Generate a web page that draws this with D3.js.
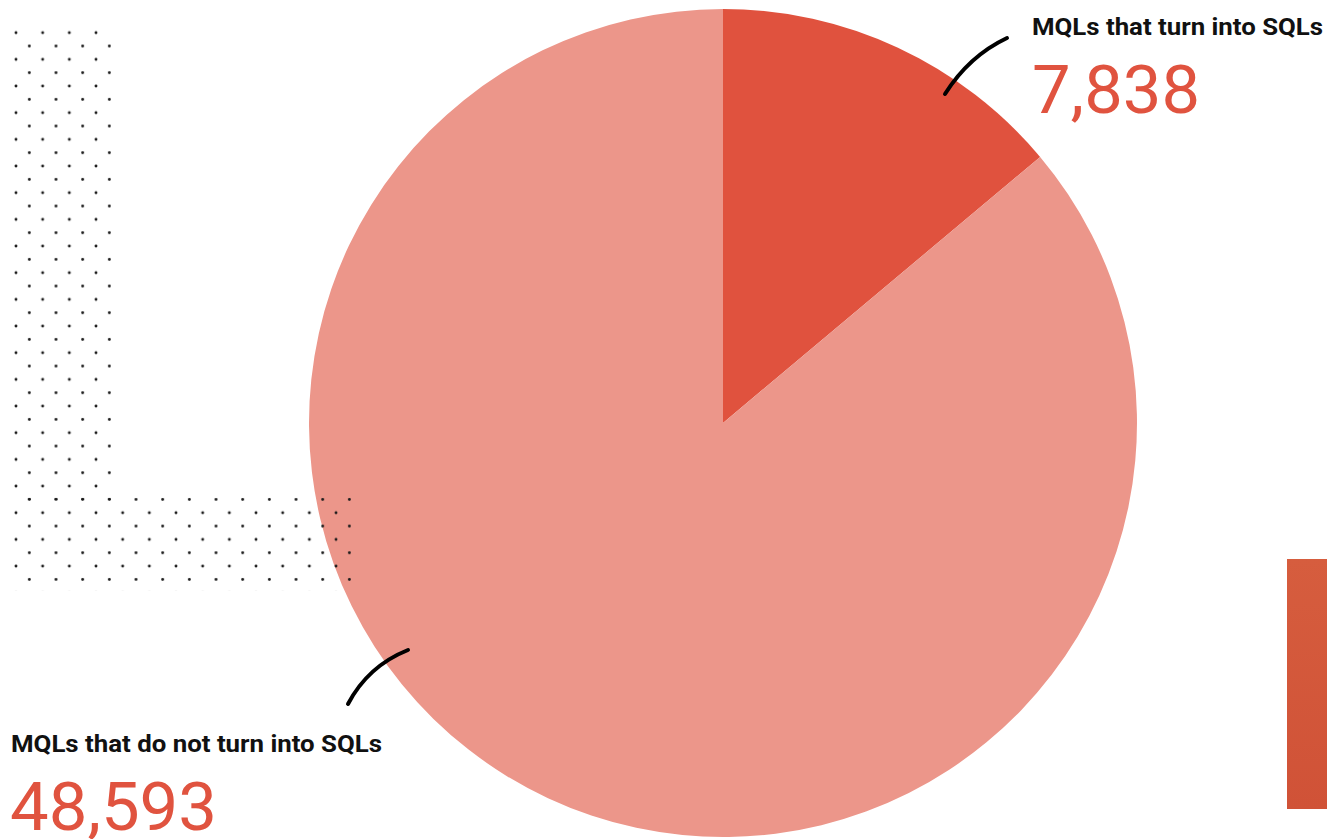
<!DOCTYPE html>
<html lang="en">
<head>
<meta charset="UTF-8">
<title>MQLs to SQLs</title>
<style>
body{margin:0;background:#fff;}
.lbl{font-family:Roboto,"Liberation Sans",sans-serif;font-weight:700;fill:#111;}
.num{font-family:Roboto,"Liberation Sans",sans-serif;font-weight:400;fill:#E0533F;}
</style>
</head>
<body>
<script src="https://cdn.jsdelivr.net/npm/d3@7"></script>
<script>
// data
var labels = ["MQLs that turn into SQLs", "MQLs that do not turn into SQLs"];
var values = [7838, 48593];
var colors = ["#E0523E", "#EC968A"];

var width = 1327, height = 839;
var cx = 723, cy = 423, radius = 414;

var svg = d3.select("body").append("svg")
	.attr("width", width)
	.attr("height", height);

// dot pattern (decoration in the back-left)
var defs = svg.append("defs");
var pat = defs.append("pattern")
	.attr("id", "dots")
	.attr("patternUnits", "userSpaceOnUse")
	.attr("x", 16).attr("y", 32.7)
	.attr("width", 26.67).attr("height", 26.67);
var pts = [[0,0],[26.67,0],[0,26.67],[26.67,26.67],[13.33,13.33]];
pts.forEach(function(p){
	pat.append("circle").attr("cx", p[0]).attr("cy", p[1]).attr("r", 1.45).attr("fill", "#1a1a1a");
});

// pie
var pie = d3.pie().sort(null).value(function(d){ return d; });
var arc = d3.arc().innerRadius(0).outerRadius(radius);
var g = svg.append("g").attr("transform", "translate(" + cx + "," + cy + ")");
g.selectAll("path")
	.data(pie(values))
	.enter().append("path")
	.attr("d", arc)
	.attr("fill", function(d, i){ return colors[i]; });

// dots are drawn over the pie
svg.append("rect").attr("x", 13).attr("y", 30).attr("width", 99).attr("height", 470).attr("fill", "url(#dots)");
svg.append("rect").attr("x", 13).attr("y", 497.5).attr("width", 338).attr("height", 93).attr("fill", "url(#dots)");

// side bar
var grad = defs.append("linearGradient").attr("id", "bar").attr("x1", 0).attr("y1", 0).attr("x2", 0).attr("y2", 1);
grad.append("stop").attr("offset", "0%").attr("stop-color", "#D65D3E");
grad.append("stop").attr("offset", "100%").attr("stop-color", "#D05237");
svg.append("rect").attr("x", 1287).attr("y", 559).attr("width", 40).attr("height", 250).attr("fill", "url(#bar)");

// leaders
var lead = svg.append("g").attr("fill", "none").attr("stroke", "#000")
	.attr("stroke-width", 4).attr("stroke-linecap", "round");
lead.append("path").attr("d", "M945,94 Q969,56 1007,38");
lead.append("path").attr("d", "M348,704 Q368,666 408,650");

// labels
var fmt = d3.format(",");
svg.append("text").attr("class", "lbl").attr("x", 1032).attr("y", 35)
	.attr("font-size", 24).attr("textLength", 291).attr("lengthAdjust", "spacingAndGlyphs").text(labels[0]);
svg.append("text").attr("class", "num").attr("x", 1032).attr("y", 113)
	.attr("font-size", 66).attr("textLength", 168).attr("lengthAdjust", "spacingAndGlyphs").text(fmt(values[0]));
svg.append("text").attr("class", "lbl").attr("x", 11).attr("y", 752)
	.attr("font-size", 24).attr("textLength", 371).attr("lengthAdjust", "spacingAndGlyphs").text(labels[1]);
svg.append("text").attr("class", "num").attr("x", 10).attr("y", 829.5)
	.attr("font-size", 66).attr("textLength", 207).attr("lengthAdjust", "spacingAndGlyphs").text(fmt(values[1]));
</script>
</body>
</html>
